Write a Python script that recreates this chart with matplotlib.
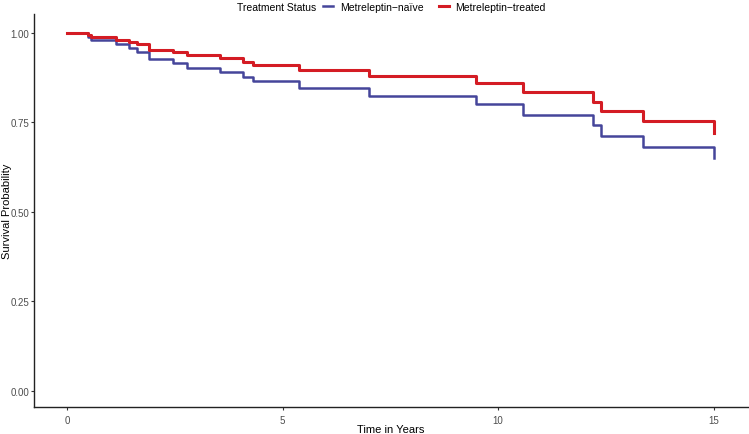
import numpy as np
import matplotlib.pyplot as plt

plt.rcParams['font.family'] = ['Liberation Sans', 'DejaVu Sans']

# Kaplan-Meier step points
t_naive = [0, 0.49, 0.56, 1.13, 1.44, 1.62, 1.90, 2.47, 2.79, 3.55, 4.09, 4.31,
           5.39, 7.01, 9.49, 10.57, 12.20, 12.39, 13.37, 15.0]
s_naive = [1.0, 0.988, 0.980, 0.969, 0.958, 0.947, 0.926, 0.915, 0.902, 0.890, 0.876, 0.865,
           0.847, 0.825, 0.801, 0.772, 0.742, 0.712, 0.682, 0.651]

t_treated = [0, 0.49, 0.56, 1.13, 1.44, 1.62, 1.90, 2.47, 2.79, 3.55, 4.09, 4.31,
             5.39, 7.01, 9.49, 10.57, 12.20, 12.39, 13.37, 15.0]
s_treated = [1.0, 0.994, 0.988, 0.981, 0.974, 0.968, 0.953, 0.946, 0.939, 0.929, 0.920, 0.911,
             0.896, 0.880, 0.859, 0.834, 0.808, 0.781, 0.753, 0.721]

xticks = [0, 5, 10, 15]
yticks = [0.00, 0.25, 0.50, 0.75, 1.00]

fig = plt.figure(figsize=(7.49, 4.35), dpi=100)
ax = fig.add_axes([0.0454, 0.062, 0.953, 0.9035])

ax.step(t_naive, s_naive, where='post', color='#45459a', lw=1.8, label='Metreleptin\u2212naïve')
ax.step(t_treated, s_treated, where='post', color='#d41c24', lw=2.2, label='Metreleptin\u2212treated')

ax.set_xlim(-0.765, 15.79)
ax.set_ylim(-0.045, 1.053)
ax.set_xticks(xticks)
ax.set_yticks(yticks)
ax.set_yticklabels([f'{v:.2f}' for v in yticks])
ax.tick_params(labelsize=7, length=2, color='#333333', labelcolor='#4d4d4d')
ax.tick_params(axis='y', pad=1.2)
for s in ['top', 'right']:
    ax.spines[s].set_visible(False)
for s in ['left', 'bottom']:
    ax.spines[s].set_linewidth(1.0)
    ax.spines[s].set_color('#222222')

ax.set_xlabel('Time in Years', fontsize=8)
ax.xaxis.set_label_coords(0.5, -0.042)
ax.set_ylabel('Survival Probability', fontsize=8)
ax.yaxis.set_label_coords(-0.0375, 0.5)
ax.yaxis.label.set_va('center')

fig.text(237 / 749, 1 - 8 / 435, 'Treatment Status', fontsize=7.5, va='center', ha='left')
fig.legend(loc='center left', bbox_to_anchor=(323 / 749, 1 - 8 / 435), ncol=2,
           frameon=False, fontsize=7.5, handlelength=1.0, handletextpad=0.6,
           columnspacing=1.5, borderpad=0, borderaxespad=0)

fig.savefig('out.png', dpi=100)
